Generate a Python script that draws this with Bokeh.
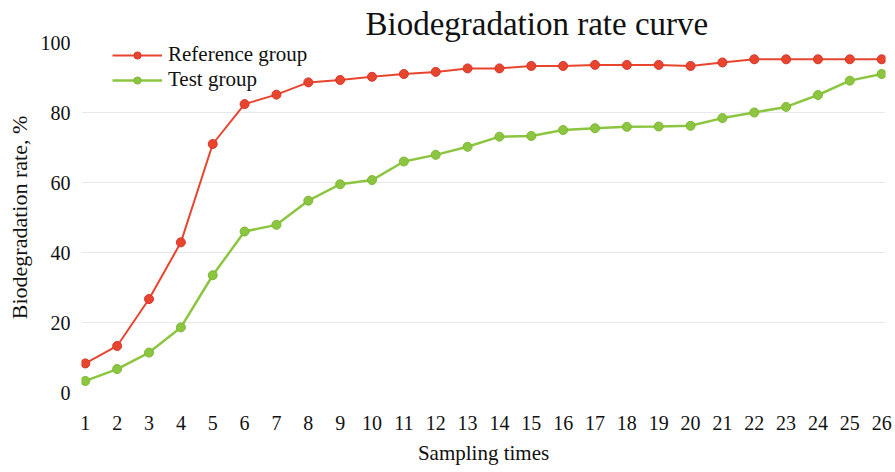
from bokeh.plotting import figure
from bokeh.models import FixedTicker, Range1d, Legend, LegendItem
from bokeh.embed import file_html
from bokeh.resources import INLINE

sampling_times = list(range(1, 27))
reference_group = [8.3, 13.3, 26.7, 42.9, 71.0, 82.4, 85.1, 88.6, 89.3, 90.2,
                   91.0, 91.6, 92.6, 92.6, 93.3, 93.3, 93.6, 93.6, 93.6, 93.3,
                   94.3, 95.2, 95.2, 95.2, 95.2, 95.2]
test_group = [3.3, 6.7, 11.4, 18.6, 33.5, 46.0, 47.9, 54.8, 59.5, 60.7,
              66.0, 67.9, 70.2, 73.1, 73.3, 75.0, 75.5, 75.9, 76.0, 76.2,
              78.4, 80.0, 81.6, 85.0, 89.1, 91.0]
y_ticks = [0, 20, 40, 60, 80, 100]
title_text = "Biodegradation rate curve"

FONT = "Liberation Serif"
RED = "#E8452F"
GREEN = "#8CC641"

p = figure(width=895, height=472, output_backend="svg", toolbar_location=None,
           x_range=Range1d(0.88, 26.12), y_range=Range1d(0, 100),
           min_border_left=81, min_border_right=10, min_border_top=42,
           min_border_bottom=80)

p.title.text = title_text
p.title.text_font = FONT
p.title.text_font_size = "33px"
p.title.text_font_style = "normal"
p.title.text_color = "#111111"
p.title.align = "left"
p.title.offset = 284
p.title.standoff = 2

p.outline_line_color = None
p.background_fill_color = "white"
p.border_fill_color = "white"

r1 = p.line(sampling_times, reference_group, line_color=RED, line_width=2)
r1m = p.scatter(sampling_times, reference_group, size=9, fill_color=RED,
                line_color="#D8362A", line_width=1)
r2 = p.line(sampling_times, test_group, line_color=GREEN, line_width=2.5)
r2m = p.scatter(sampling_times, test_group, size=9, fill_color=GREEN,
                line_color="#7DB834", line_width=1)

p.xaxis.ticker = FixedTicker(ticks=sampling_times)
p.yaxis.ticker = FixedTicker(ticks=y_ticks)
for ax in (p.xaxis[0], p.yaxis[0]):
    ax.axis_line_color = None
    ax.major_tick_line_color = None
    ax.minor_tick_line_color = None
    ax.major_tick_out = 0
    ax.major_tick_in = 0
    ax.major_label_text_font = FONT
    ax.major_label_text_color = "#111111"
    ax.axis_label_text_font = FONT
    ax.axis_label_text_font_style = "normal"
    ax.axis_label_text_color = "#111111"

p.xaxis.major_label_text_font_size = "20px"
p.yaxis.major_label_text_font_size = "20px"
p.xaxis.major_label_standoff = 23
p.yaxis.major_label_standoff = 11
p.xaxis.axis_label = "Sampling times"
p.yaxis.axis_label = "Biodegradation rate, %"
p.xaxis.axis_label_text_font_size = "21px"
p.yaxis.axis_label_text_font_size = "22px"
p.xaxis.axis_label_standoff = 8
p.yaxis.axis_label_standoff = 6

p.xgrid.grid_line_color = None
p.ygrid.grid_line_color = "#E8E8E8"
p.ygrid.grid_line_width = 1

legend = Legend(items=[
    LegendItem(label="Reference group", renderers=[r1, r1m]),
    LegendItem(label="Test group", renderers=[r2, r2m]),
], location=(31, 300))
legend.label_text_font = FONT
legend.label_text_font_size = "21px"
legend.label_text_color = "#111111"
legend.glyph_width = 50
legend.glyph_height = 18
legend.label_height = 18
legend.label_standoff = 6
legend.spacing = 0
legend.padding = 0
legend.margin = 0
legend.border_line_color = None
legend.background_fill_alpha = 0
p.add_layout(legend, "center")

open("out.html", "w").write(file_html(p, INLINE))
